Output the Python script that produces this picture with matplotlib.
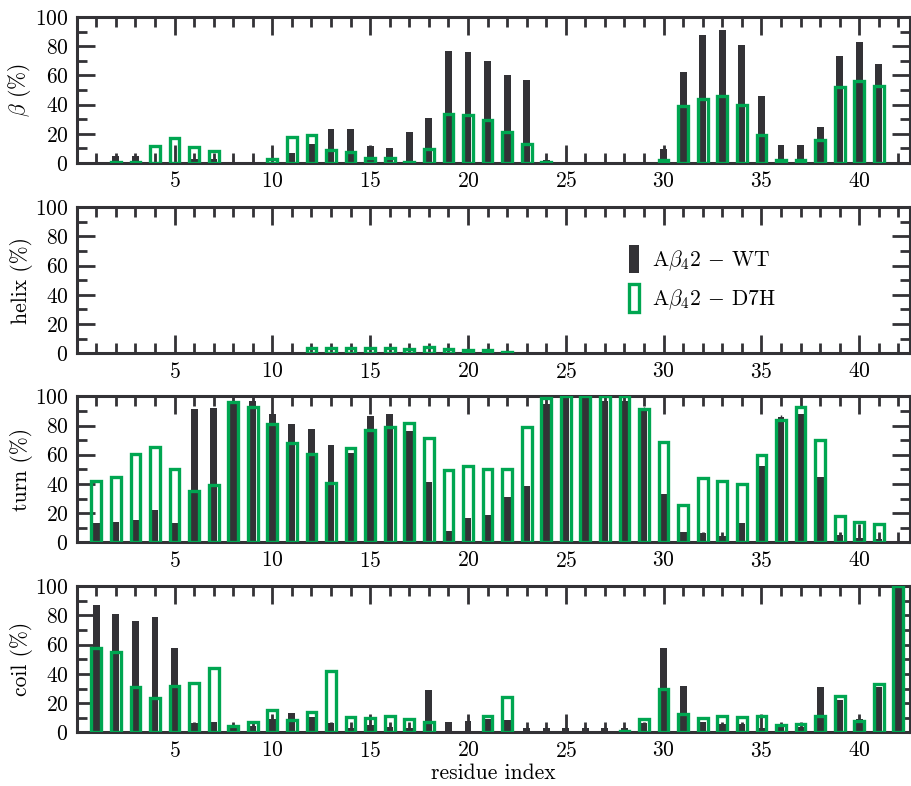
import numpy as np
import matplotlib
matplotlib.use("Agg")
import matplotlib.pyplot as plt
from matplotlib.patches import Patch
from matplotlib.ticker import MultipleLocator

plt.rcParams["font.family"] = "serif"
plt.rcParams["font.serif"] = ["cmr10", "DejaVu Serif"]
plt.rcParams["mathtext.fontset"] = "cm"
plt.rcParams["axes.formatter.use_mathtext"] = True

# residue numbers
residues = np.arange(1, 43)

# beta content (%)
beta_wt = [0, 5, 5, 1, 1, 3, 3, 0, 0, 0, 7, 13, 23, 23, 11.5, 10, 21.5, 31, 77, 76, 70,
           60.5, 57, 2, 0, 0, 1, 1, 0, 9.5, 62, 88, 91, 81, 46, 12.3, 12, 25, 73.5, 83, 68, 0]
beta_wt_err = [5.5, 0, 0, 4, 10, 2, 1, 5, 5, 11, 0, 0, 0, 0, 0, 0, 0, 0, 0, 0, 0,
               0, 0, 3, 11, 5, 4, 4, 5, 2, 0, 0, 0, 0, 0, 0, 0, 0, 0, 0, 0, 0]
beta_d7h = [0, 1, 1, 11.5, 17, 11, 8, 0, 0, 3, 17.5, 19, 8.7, 7.3, 3.4, 3.4, 1, 9.6, 33.5, 32.6, 29.4,
            21, 13, 1, 0, 0, 0, 0, 0, 2, 38.7, 43.7, 46.2, 40, 19, 2.3, 1.8, 16, 52, 56, 52.6, 0]

# helix content (%)
helix_wt = [0] * 11 + [1, 1, 1, 1, 1, 1, 1, 1, 1, 1] + [0] * 21
helix_wt_err = [0] * 11 + [2, 2, 2, 2, 2, 2, 2, 2, 2, 2] + [0] * 21
helix_d7h = [0] * 11 + [3.5, 3.5, 3.5, 3.5, 3.5, 3, 4.5, 3, 2, 2, 1] + [0] * 20

# turn content (%)
turn_wt = [13.5, 14, 15.3, 22, 13.5, 91.3, 92, 97, 97, 88, 81, 77.6, 66.8, 61, 86.3, 88, 76, 41,
           7.5, 17, 18.8, 31, 38.7, 95, 100, 100, 97, 97, 90, 33, 7.3, 6.6, 4.6, 13.5, 52.4,
           86, 88, 45, 5.3, 3, 2.3, 0]
turn_wt_err = [0, 0, 0, 0, 0, 0, 0, 5, 3, 0, 0, 0, 0, 0, 0, 0, 0, 0, 0, 0, 0, 0, 0, 5,
               0, 0, 3, 3, 3, 0, 0, 0, 2, 0, 0, 1, 0, 0, 1, 6, 4, 0]
turn_d7h = [42.3, 44.4, 60.6, 65, 50, 35.2, 39.4, 96, 93, 81, 68, 60.6, 40.3, 64.5, 77, 78.7, 82,
            71.4, 49.2, 52, 50, 50, 78.7, 99, 100, 100, 100, 100, 91, 68.6, 25.6, 44, 42, 40,
            60, 83.5, 93, 69.8, 18.3, 14.2, 12.4, 0]

# coil content (%)
coil_wt = [87.4, 81, 76, 78.7, 58, 6.6, 7, 3, 4, 9, 13, 10.7, 6.6, 2.7, 5, 3.4, 2.7, 29, 7.3, 8,
           8.9, 8.5, 3, 3, 2.7, 3, 3, 3, 6.6, 58, 31.8, 7.3, 5.7, 5.7, 3, 3.9, 3.9, 31.3, 22.2,
           9, 31, 100]
coil_wt_err = [0, 0, 0, 0, 0, 0, 0, 3, 2, 3, 0, 0, 0, 4, 7, 3, 3, 0, 0, 4, 0, 0, 1, 1, 9,
               1, 1, 1, 0, 0, 0, 0, 0, 0, 9, 1, 1, 0, 0, 2, 0, 0]
coil_d7h = [58, 55, 30.7, 23.3, 32, 33.6, 43.7, 4.3, 6.9, 15.3, 8.5, 14.2, 42, 10.7, 9.6, 11.4,
            9.2, 6.9, 0, 0, 11.2, 24.5, 0, 0, 0, 0, 0, 1, 9.2, 29.5, 12.6, 9.6, 11.4, 10.7, 11.4,
            5, 5.5, 11.4, 25.2, 8, 33, 100]

panels = [
    (r"$\beta$ (%)", beta_wt, beta_wt_err, beta_d7h),
    ("helix (%)", helix_wt, helix_wt_err, helix_d7h),
    ("turn (%)", turn_wt, turn_wt_err, turn_d7h),
    ("coil (%)", coil_wt, coil_wt_err, coil_d7h),
]

dark = "#333236"
green = "#00a651"

fig = plt.figure(figsize=(9.11, 7.86), dpi=100)

bottoms = [0.7926, 0.5505, 0.3100, 0.0683]
axes = []
for (ylab, wt, wt_err, d7h), b in zip(panels, bottoms):
    ax = fig.add_axes([0.0842, b, 0.9148, 0.1858])
    wt = np.array(wt, dtype=float)
    d7h = np.array(d7h, dtype=float)
    ax.bar(residues, wt, width=0.35, color=dark, zorder=2)
    ax.errorbar(residues, wt, yerr=wt_err, fmt="none", ecolor=dark, elinewidth=1.0,
                capsize=0, zorder=3)
    # empty D7H bars are not drawn
    keep = d7h > 0
    ax.bar(residues[keep], d7h[keep], width=0.5, facecolor="none", edgecolor=green,
           linewidth=2.4, zorder=4)
    ax.set_xlim(0, 42.6)
    ax.set_ylim(0, 100)
    ax.xaxis.set_major_locator(MultipleLocator(5))
    ax.xaxis.set_minor_locator(MultipleLocator(1))
    ax.yaxis.set_major_locator(MultipleLocator(20))
    ax.yaxis.set_minor_locator(MultipleLocator(10))
    ax.tick_params(which="both", direction="in", top=True, right=True, color=dark,
                   labelsize=15.5, pad=6)
    ax.tick_params(which="major", length=13, width=2)
    ax.tick_params(which="minor", length=7, width=2)
    ax.set_xticks([5, 10, 15, 20, 25, 30, 35, 40])
    for s in ax.spines.values():
        s.set_linewidth(2.2)
        s.set_color(dark)
    ax.set_ylabel(ylab, fontsize=15.5, labelpad=1)
    axes.append(ax)

axes[-1].set_xlabel("residue index", fontsize=15.5, labelpad=2)

handles = [Patch(facecolor=dark, edgecolor="none"),
           Patch(facecolor="none", edgecolor=green, linewidth=2.4)]
labels = [r"A$\beta_4$2 $-$ WT", r"A$\beta_4$2 $-$ D7H"]
axes[1].legend(handles, labels, loc="upper left", bbox_to_anchor=(0.64, 0.875),
               frameon=False, fontsize=15.5, handlelength=0.45, handleheight=1.6,
               handletextpad=0.6, labelspacing=0.55)

fig.savefig("out.png", dpi=100)
